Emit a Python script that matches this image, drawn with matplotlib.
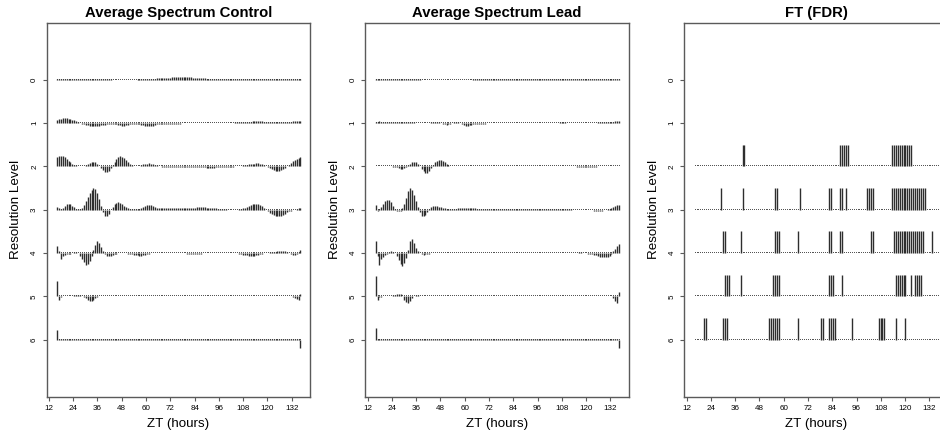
import numpy as np
import matplotlib
matplotlib.use("Agg")
import matplotlib.pyplot as plt

plt.rcParams['font.family'] = ['Liberation Sans', 'DejaVu Sans']

# ---------------- data ----------------
panel_titles = ["Average Spectrum Control", "Average Spectrum Lead", "FT (FDR)"]
level_labels = [0, 1, 2, 3, 4, 5, 6]
x_ticks = [12, 24, 36, 48, 60, 72, 84, 96, 108, 120, 132]
zt_start, zt_end, n_points = 16.0, 136.3, 128
coef_scale = 1 / 130.0      # coefficient units -> resolution-level units

ctrl_L0 = [3,3,3,3,3,3,3,3, 3,3,3,3,3,3,3,3, 3,3,3,3,3,3,3,2, 2,2,2,2,2,1,1,1,
           1,1,1,1,1,1,1,1, 1,1,2,2,3,3,3,3, 3,4,4,4,5,5,6,6, 6,7,7,7,8,8,8,9,
           9,10,10,9,9,8,8,7, 7,6,6,5,5,5,4,4, 4,4,4,4,4,3,3,3, 3,3,3,4,4,4,4,4,
           4,4,4,4,4,4,3,3, 3,3,4,4,4,4,3,3, 3,2,2,2,2,3,3,3, 3,3,3,3,3,3,3,3]
ctrl_L1 = [10,12,13,14,14,14,13,12, 10,8,6,3,1,-2,-4,-6, -7,-8,-9,-9,-9,-8,-8,-7, -6,-5,-4,-3,-2,-2,-3,-4,
           -5,-7,-8,-8,-7,-5,-3,-2, -2,-2,-3,-4,-5,-7,-8,-9, -10,-9,-8,-6,-4,-3,-3,-2, -2,-2,-2,-2,-3,-3,-2,-2,
           -2,-1,-1,-1,-1,-1,-1,-1, -1,-1,0,0,0,1,1,1, 1,1,1,1,1,1,1,1, 1,1,1,1,1,2,2,2,
           2,3,3,4,4,4,5,5, 5,5,5,5,4,4,4,4, 3,3,3,3,3,3,4,4, 4,4,4,5,5,5,6,7]
ctrl_L2 = [28,32,32,30,27,22,17,12, 8,5,3,2,1,1,2,4, 7,10,13,14,12,8,2,-5, -12,-17,-18,-14,-6,3,12,22,
           28,30,28,24,18,12,7,3, 1,0,1,2,4,6,8,8, 9,8,7,5,3,2,1,-1, -2,-2,-2,-1,-1,-1,-1,-1,
           -1,-1,-1,-1,-1,-1,-1,-1, -2,-2,-2,-3,-3,-3,-4,-4, -4,-4,-4,-3,-3,-3,-2,-2, -2,-2,-1,-1,-1,0,0,1,
           2,3,4,5,6,7,8,8, 9,9,8,6,4,1,-2,-5, -8,-11,-13,-14,-14,-12,-9,-5, 0,5,10,15,19,23,26,28]
ctrl_L3 = [8,6,3,6,12,17,18,16, 12,7,3,1,2,6,14,26, 38,50,60,65,62,50,32,12, -6,-18,-20,-12,-2,8,16,21,
           22,20,16,12,8,5,3,2, 2,2,2,3,5,8,11,13, 14,13,11,8,6,5,4,4, 4,4,4,4,4,4,4,4,
           4,4,4,4,4,5,5,6, 6,7,8,8,8,7,6,5, 5,4,4,4,3,3,3,2, 1,0,-1,-2,-2,-1,0,2,
           3,4,6,8,11,14,17,18, 18,17,14,10,5,0,-5,-10, -14,-17,-19,-20,-20,-19,-16,-12, -8,-5,-3,-2,0,2,4,6]
ctrl_L4 = [20,5,-18,-8,-5,-4,-4,-3, -1,2,3,1,-8,-18,-28,-35, -34,-25,-10,10,25,35,30,18, 6,-4,-9,-10,-8,-5,-3,-2,
           -1,-1,-1,-1,-1,-2,-3,-4, -5,-6,-7,-8,-8,-7,-5,-3, -2,-1,-1,-1,-1,-1,-1,-1, -1,-1,-1,-1,-1,-1,-1,-1,
           -1,-1,-1,-1,-2,-2,-3,-3, -3,-3,-2,-2,-1,-1,-1,-1, -1,-1,-1,-1,-1,-1,-1,-1, -1,-1,-1,-1,-1,-1,-1,-2,
           -3,-5,-6,-7,-8,-8,-8,-8, -7,-6,-4,-2,-1,0,1,2, 3,3,4,5,6,7,6,5, 2,-1,-3,-5,-5,-3,2,10]
ctrl_L5 = [45,-10,-2,0,0,1,1,1, 2,3,4,5,4,2,-2,-6, -10,-13,-15,-12,-6,-2,1,2, 2,1,1,1,1,1,1,1,
           1,1,1,1,1,1,1,1, 1,2,2,2,1,1,1,1, 1,1,1,1,1,1,1,1, 1,1,1,1,1,1,1,1,
           1,1,1,2,2,1,1,1, 1,1,1,1,1,1,1,1, 1,1,1,1,1,1,1,1, 1,1,1,1,1,1,1,1,
           1,1,1,2,2,2,1,1, 1,1,1,1,1,1,1,1, 1,1,1,1,1,1,1,1, 1,1,1,-2,-5,-8,-10,6]
ctrl_L6 = [30,1,1,1,1,1,1,1, 1,1,1,1,1,1,1,1, 1,1,1,1,1,1,1,1, 1,1,1,1,1,1,1,1,
           1,1,1,1,1,1,1,1, 1,1,1,1,1,1,1,1, 1,1,1,1,1,1,1,1, 1,1,1,1,1,1,1,1,
           1,1,1,1,1,1,1,1, 1,1,1,1,1,1,1,1, 1,1,1,1,1,1,1,1, 1,1,1,1,1,1,1,1,
           1,1,1,1,1,1,1,1, 1,1,1,1,1,1,1,1, 1,1,1,1,1,1,1,1, 1,1,1,1,1,1,1,-25]

lead_L0 = [3,3,3,3,3,3,3,3, 3,3,3,3,3,3,3,3, 3,3,3,3,3,3,3,2, 1,1,1,1,1,1,1,1,
           1,1,1,1,1,1,1,1, 1,1,1,1,1,1,1,1, 1,1,1,2,3,3,3,3, 3,3,3,3,4,4,4,4,
           4,4,4,4,4,4,4,4, 4,4,4,4,4,4,4,4, 3,3,3,3,3,3,3,3, 3,3,3,3,3,3,3,3,
           3,3,3,3,3,3,3,3, 3,3,3,3,3,3,3,3, 3,3,3,3,3,3,3,3, 3,3,3,3,3,3,3,3]
lead_L1 = [4,4,5,4,4,3,4,4, 4,4,4,3,3,3,3,3, 3,3,3,2,2,1,1,1, 1,1,1,1,1,2,3,4,
           4,3,1,-2,-4,-5,-4,-2, 1,3,4,3,0,-3,-6,-8, -8,-7,-6,-4,-3,-2,-2,-2, -2,-2,-1,-1,-1,-1,-1,-1,
           1,1,1,1,1,1,1,1, 1,1,1,1,1,1,1,1, 1,1,1,1,1,1,1,1, 1,1,1,1,1,1,1,1,
           2,2,2,2,1,1,1,1, 1,1,1,1,1,1,1,1, 1,1,1,1,2,2,2,2, 2,2,3,3,4,5,6,6]
lead_L2 = [2,2,2,2,1,1,1,0, 0,-1,-2,-3,-5,-7,-8,-6, -2,3,8,12,14,12,7,0, -8,-15,-20,-19,-13,-4,5,12,
           16,18,18,16,12,8,4,2, 1,1,1,1,1,1,1,1, 1,1,1,1,1,1,1,1, 1,1,1,1,1,1,1,1,
           1,1,1,1,1,1,1,1, 1,1,1,1,1,1,1,1, 1,1,1,1,1,1,1,1, 1,1,1,1,1,1,1,1,
           1,1,1,1,1,1,1,1, 0,-1,-2,-3,-3,-3,-3,-3, -3,-2,-2,-1,0,1,1,1, 1,1,1,1,1,1,2,2]
lead_L3 = [15,-5,2,8,18,26,30,28, 22,12,3,-4,-5,-3,5,18, 35,55,65,60,45,25,8,-6, -18,-20,-16,-8,2,8,12,12,
           11,9,7,5,4,3,3,3, 3,3,3,4,4,4,4,4, 4,4,4,4,4,3,3,3, 3,3,3,3,3,3,3,3,
           3,3,3,3,3,2,2,2, 2,2,2,2,2,2,2,2, 2,2,1,1,1,1,1,1, 1,1,1,2,2,2,2,2,
           2,2,1,1,1,1,1,0, 0,-1,-1,-1,-2,-2,-2,-2, -2,-2,-3,-3,-3,-3,-3,-2, -1,1,3,6,9,12,14,15]
lead_L4 = [35,-8,-36,-18,-12,-5,-2,2, 5,4,1,-10,-22,-32,-38,-30, -15,10,35,42,30,15,5,0, -4,-5,-4,-3,-2,-1,-1,-1,
           -1,-1,-1,-1,-1,-1,-1,-1, -1,-1,-1,-1,-1,-1,-1,-1, -1,-1,-1,-1,-1,-1,-1,-1, 1,1,1,1,1,1,1,1,
           1,1,1,1,1,1,1,1, 1,1,1,1,1,1,1,1, 1,1,1,1,1,1,1,1, 1,1,1,1,1,1,1,1,
           1,1,1,1,1,1,1,1, 0,1,2,2,1,0,-1,-2, -3,-4,-5,-7,-9,-11,-12,-12, -12,-11,-8,-2,5,12,20,28]
lead_L5 = [60,-12,-3,-1,0,1,1,2, 2,3,5,7,8,6,0,-10, -18,-20,-14,-4,2,4,3,2, 1,1,1,1,1,1,1,1,
           1,1,1,1,1,1,1,1, 1,1,2,2,1,1,1,1, 1,1,1,1,1,1,1,1, 1,1,1,1,1,1,1,1,
           1,1,1,1,1,1,1,1, 1,1,1,1,1,1,1,1, 1,1,1,1,1,1,1,1, 1,1,1,1,1,1,1,1,
           1,1,1,1,1,1,1,1, 1,1,1,1,1,1,1,1, 1,1,1,1,1,1,1,1, 1,1,2,1,-6,-14,-20,12]
lead_L6 = [35,1,1,1,1,1,1,1, 1,1,1,1,1,1,1,1, 1,1,1,1,1,1,1,1, 1,1,1,1,1,1,1,1,
           1,1,1,1,1,1,1,1, 1,1,1,1,1,1,1,1, 1,1,1,1,1,1,1,1, 1,1,1,1,1,1,1,1,
           1,1,1,1,1,1,1,1, 1,1,1,1,1,1,1,1, 1,1,1,1,1,1,1,1, 1,1,1,1,1,1,1,1,
           1,1,1,1,1,1,1,1, 1,1,1,1,1,1,1,1, 1,1,1,1,1,1,1,1, 1,1,1,1,1,2,3,-25]

# indices (time positions) of coefficients flagged significant by FT (FDR)
fdr_L2 = [25, 26, 76, 77, 78, 79, 80, 103, 104, 105, 106, 107, 108, 109, 110, 111, 112, 113]
fdr_L3 = [14, 25, 42, 43, 55, 70, 71, 76, 77, 79, 90, 91, 92, 93, 103, 104, 105, 106, 107, 108,
          109, 110, 111, 112, 113, 114, 115, 116, 117, 118, 119, 120]
fdr_L4 = [15, 16, 24, 42, 43, 44, 54, 70, 71, 76, 77, 92, 93, 104, 105, 106, 107, 108, 109, 110,
          111, 112, 113, 114, 115, 116, 117, 118, 119, 124]
fdr_L5 = [16, 17, 18, 24, 41, 42, 43, 44, 70, 71, 72, 77, 105, 106, 107, 108, 109, 110, 113, 115,
          116, 117, 118]
fdr_L6 = [5, 6, 15, 16, 17, 39, 40, 41, 42, 43, 44, 54, 66, 67, 70, 71, 72, 73, 82, 96, 97, 98,
          99, 105, 110]
fdr_height = 0.5

ctrl_levels = [ctrl_L0, ctrl_L1, ctrl_L2, ctrl_L3, ctrl_L4, ctrl_L5, ctrl_L6]
lead_levels = [lead_L0, lead_L1, lead_L2, lead_L3, lead_L4, lead_L5, lead_L6]
fdr_levels = {2: fdr_L2, 3: fdr_L3, 4: fdr_L4, 5: fdr_L5, 6: fdr_L6}
for lst in ctrl_levels + lead_levels:
    assert len(lst) == n_points, len(lst)

t = np.linspace(zt_start, zt_end, n_points)

# ---------------- figure ----------------
W, H = 940, 436
fig = plt.figure(figsize=(W / 100, H / 100), dpi=100)

ax_lefts = [46.7, 365.3, 684.3]
ax_w = 263.3
ax_top, ax_bot = 22.7, 396.7

seg_color = '#2e2e2e'
dot_color = '#555555'
frame_color = '#5a5a5a'

axes = []
for k, left in enumerate(ax_lefts):
    ax = fig.add_axes([left / W, 1 - ax_bot / H, ax_w / W, (ax_bot - ax_top) / H])
    ax.set_xlim(10.9, 141.0)
    ax.set_ylim(7.32, -1.32)
    ax.set_xticks(x_ticks)
    ax.set_xticklabels([str(v) for v in x_ticks])
    ax.set_yticks(level_labels)
    ax.set_yticklabels([str(v) for v in level_labels])
    ax.tick_params(axis='x', length=2.8, width=0.8, color=frame_color, labelsize=5.8, pad=3.2)
    ax.tick_params(axis='y', length=3.0, width=0.8, color=frame_color, labelsize=5.8, pad=3.2,
                   labelrotation=90)
    for lab in ax.get_yticklabels():
        lab.set_va('center')
    for sp in ax.spines.values():
        sp.set_color(frame_color)
        sp.set_linewidth(1.0)
    ax.set_xlabel("ZT (hours)", fontsize=9.6)
    ax.xaxis.set_label_coords(0.5, -0.073)
    ax.xaxis.label.set_va('center')
    ax.set_ylabel("Resolution Level", fontsize=9.6)
    ax.yaxis.set_label_coords(-30.7 / ax_w, 0.5)
    ax.yaxis.label.set_va('center')
    ax.text(0.5, 1 + (ax_top - 12.7) / (ax_bot - ax_top), panel_titles[k], transform=ax.transAxes,
            ha='center', va='center', fontsize=10.7, fontweight='bold')
    axes.append(ax)

# wavelet coefficient panels
for ax, lvls in zip(axes[:2], [ctrl_levels, lead_levels]):
    for lev, vals in zip(level_labels, lvls):
        v = np.asarray(vals, dtype=float) * coef_scale
        ax.plot(t, np.full(n_points, lev), ls='none', marker=',', color=dot_color)
        ax.vlines(t, lev, lev - v, colors=seg_color, linewidth=1.0)

# FDR panel
ax = axes[2]
for lev, idx in fdr_levels.items():
    ax.plot(t, np.full(n_points, lev), ls='none', marker=',', color=dot_color)
    ax.vlines(t[idx], lev, lev - fdr_height, colors=seg_color, linewidth=1.0)

fig.savefig("out.png", dpi=100)
